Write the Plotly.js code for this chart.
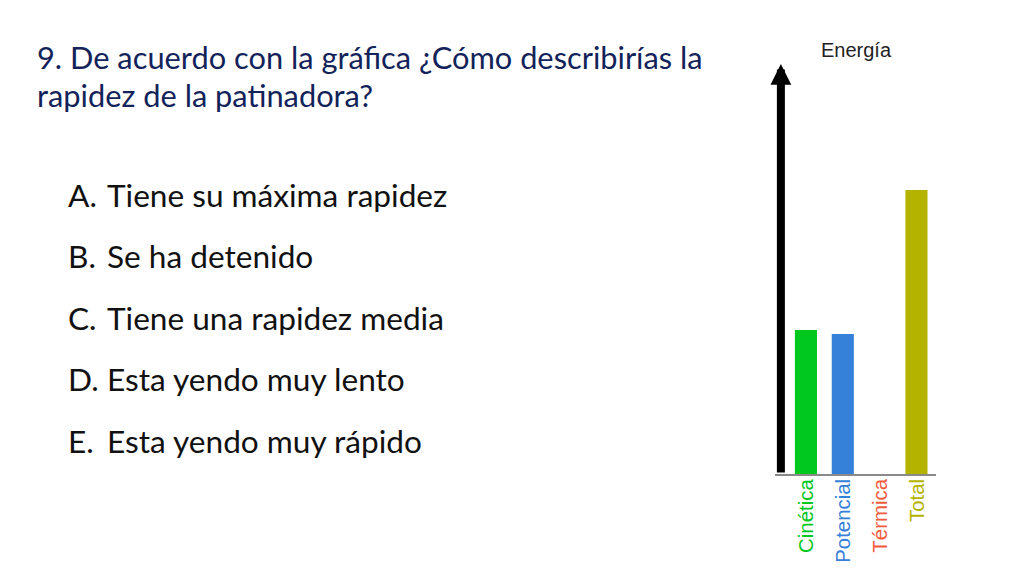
<!DOCTYPE html>
<html>
<head>
<meta charset="utf-8">
<script src="https://cdn.plot.ly/plotly-3.0.1.min.js"></script>
<style>html,body{margin:0;padding:0;background:#fff;}#chart{width:1024px;height:576px;}</style>
</head>
<body>
<div id="chart"></div>
<script>
// Data
const categories = ["Cinética", "Potencial", "Térmica", "Total"];
const energyValues = [144, 140, 0, 284];
const barColors = ["#00c81e", "#3580d8", "#f25c3e", "#b4b400"];
const chartTitle = "Energía";
const questionLines = ["9. De acuerdo con la gráfica ¿Cómo describirías la", "rapidez de la patinadora?"];
const optionLetters = ["A.", "B.", "C.", "D.", "E."];
const optionTexts = ["Tiene su máxima rapidez", "Se ha detenido", "Tiene una rapidez media", "Esta yendo muy lento", "Esta yendo muy rápido"];

const W = 1024, H = 576;
const px = x => x / W;
const py = y => 1 - y / H;

const trace = {
  type: "bar",
  x: categories,
  y: energyValues,
  marker: {color: barColors},
  width: 0.6,
  hoverinfo: "x+y"
};

const annotations = [];
// question title
const qY = [57, 95];
questionLines.forEach((t, i) => annotations.push({
  xref: "paper", yref: "paper", x: px(35), y: py(qY[i]), xanchor: "left", yanchor: "middle",
  text: t, showarrow: false, font: {family: "Lato, 'Liberation Sans', sans-serif", size: 30.8, color: "#13235a"}
}));
// options
const oY = [195, 256, 318, 379, 441];
optionLetters.forEach((l, i) => {
  annotations.push({xref: "paper", yref: "paper", x: px(66), y: py(oY[i]), xanchor: "left", yanchor: "middle",
    text: l, showarrow: false, font: {family: "Lato, 'Liberation Sans', sans-serif", size: 31.6, color: "#111"}});
  annotations.push({xref: "paper", yref: "paper", x: px(105), y: py(oY[i]), xanchor: "left", yanchor: "middle",
    text: optionTexts[i], showarrow: false, font: {family: "Lato, 'Liberation Sans', sans-serif", size: 31.6, color: "#111"}});
});
// chart title
annotations.push({xref: "paper", yref: "paper", x: px(856), y: py(50), xanchor: "center", yanchor: "middle",
  text: chartTitle, showarrow: false, font: {family: "'Liberation Sans', Arial, sans-serif", size: 20, color: "#222"}});
// vertical arrow (energy axis)
annotations.push({xref: "x", yref: "y", x: -0.68, y: 410, axref: "x", ayref: "y", ax: -0.68, ay: 0,
  showarrow: true, arrowhead: 2, arrowsize: 0.52, arrowwidth: 8, arrowcolor: "#000", text: ""});
// rotated category labels
categories.forEach((c, i) => annotations.push({
  xref: "x", yref: "paper", x: i, y: py(477), xanchor: "center", yanchor: "top", textangle: -90,
  text: c, showarrow: false, font: {family: "'Liberation Sans', Arial, sans-serif", size: 20.4, color: barColors[i]}
}));

const layout = {
  width: W, height: H,
  margin: {l: 0, r: 0, t: 0, b: 0},
  paper_bgcolor: "#fff", plot_bgcolor: "rgba(0,0,0,0)",
  showlegend: false,
  xaxis: {
    domain: [px(775), px(936)],
    range: [-0.84, 3.53],
    type: "category",
    showticklabels: false, ticks: "", showgrid: false, zeroline: false,
    showline: true, linecolor: "#8a8a8a", linewidth: 2,
    fixedrange: true
  },
  yaxis: {
    domain: [py(474), py(72)],
    range: [0, 402],
    showticklabels: false, ticks: "", showgrid: false, zeroline: false, showline: false,
    fixedrange: true
  },
  annotations: annotations
};

Plotly.newPlot("chart", [trace], layout, {displayModeBar: false, staticPlot: true});
</script>
</body>
</html>
